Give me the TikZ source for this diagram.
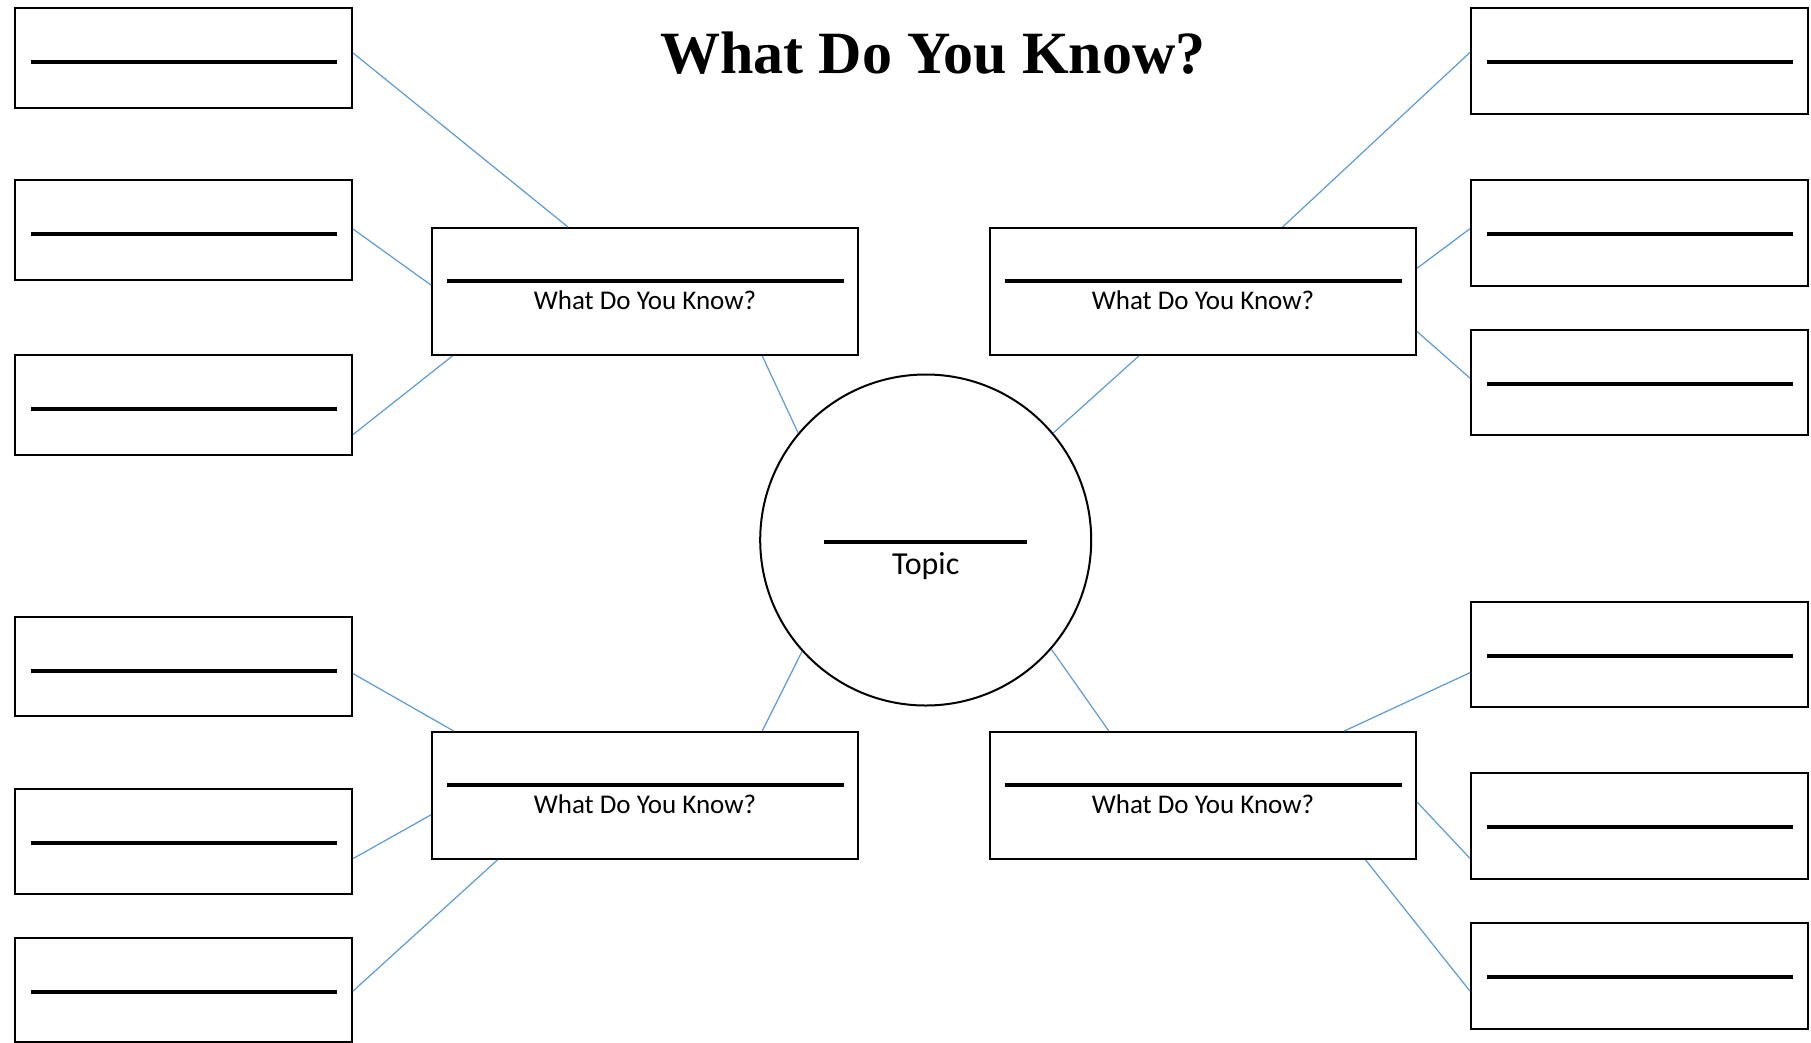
\documentclass[tikz,border=0pt]{standalone}
\usepackage{fontspec}
\setmainfont{Liberation Serif}
\newfontfamily\carlito{Carlito}
\usetikzlibrary{calc}
\definecolor{linkblue}{HTML}{5B9BD5}
\tikzset{
  smallbox/.style={draw, line width=2pt, rectangle, inner sep=0pt, minimum width=337pt, anchor=north west},
  midbox/.style={draw, line width=2pt, rectangle, inner sep=0pt, minimum width=426pt, minimum height=127pt, anchor=north west},
  blank/.style={line width=3.6pt, black},
  link/.style={linkblue, line width=1.2pt},
  boxlabel/.style={font=\carlito\fontsize{27}{31}\selectfont, anchor=base, inner sep=0pt}
}
\begin{document}
\begin{tikzpicture}[x=1pt,y=-1pt]
\useasboundingbox (0,0) rectangle (1811,1042);
% title
\node[font=\bfseries\fontsize{60}{66}\selectfont, anchor=base, inner sep=0pt] (title) at (933,73) {What Do You Know?};
% centre circle
\node[draw, circle, line width=2pt, minimum size=331pt, inner sep=0pt] (C) at (925.7,540) {};
\draw[blank] ([xshift=-101.5pt,yshift=-2pt]C.center) -- ([xshift=101.5pt,yshift=-2pt]C.center);
\node[font=\carlito\fontsize{32}{37}\selectfont, anchor=base, inner sep=0pt] (topic) at ([yshift=-34pt]C.center) {Topic};
% middle boxes
\node[midbox] (M1) at (431,227) {};
\node[midbox] (M2) at (989,227) {};
\node[midbox] (M3) at (431,731) {};
\node[midbox] (M4) at (989,731) {};
\foreach \m in {M1,M2,M3,M4}{
  \draw[blank] ([xshift=16pt,yshift=-54pt]\m.north west) -- ([xshift=-15pt,yshift=-54pt]\m.north east);
  \node[boxlabel] at ([yshift=-82.5pt]\m.north) {What Do You Know?};
}
% small boxes
\node[smallbox, minimum height=100pt] (L1) at (14,7) {};
\node[smallbox, minimum height=100pt] (L2) at (14,179) {};
\node[smallbox, minimum height=100pt] (L3) at (14,354) {};
\node[smallbox, minimum height=99pt] (L4) at (14,616) {};
\node[smallbox, minimum height=105pt] (L5) at (14,788) {};
\node[smallbox, minimum height=104pt] (L6) at (14,937) {};
\node[smallbox, minimum height=106pt] (R1) at (1470,7) {};
\node[smallbox, minimum height=106pt] (R2) at (1470,179) {};
\node[smallbox, minimum height=105pt] (R3) at (1470,329) {};
\node[smallbox, minimum height=105pt] (R4) at (1470,601) {};
\node[smallbox, minimum height=106pt] (R5) at (1470,772) {};
\node[smallbox, minimum height=106pt] (R6) at (1470,922) {};
\foreach \b in {L1,L2,L3,L4,L5,L6,R1,R2,R3,R4,R5,R6}{
  \draw[blank] ([xshift=17pt,yshift=-55pt]\b.north west) -- ([xshift=-16pt,yshift=-55pt]\b.north east);
}
% connectors: circle to middle boxes
\draw[link] (C.140) -- ($(M1.south west)!0.774!(M1.south east)$);
\draw[link] (C.40) -- ($(M2.south west)!0.35!(M2.south east)$);
\draw[link] (C.222) -- ($(M3.north west)!0.774!(M3.north east)$);
\draw[link] (C.-41) -- ($(M4.north west)!0.28!(M4.north east)$);
% M1
\draw[link] ($(L1.north east)!0.45!(L1.south east)$) -- ($(M1.north west)!0.32!(M1.north east)$);
\draw[link] ($(L2.north east)!0.49!(L2.south east)$) -- ($(M1.north west)!0.45!(M1.south west)$);
\draw[link] ($(L3.north east)!0.79!(L3.south east)$) -- ($(M1.south west)!0.05!(M1.south east)$);
% M2
\draw[link] ($(R1.north west)!0.42!(R1.south west)$) -- ($(M2.north west)!0.686!(M2.north east)$);
\draw[link] ($(R2.north west)!0.46!(R2.south west)$) -- ($(M2.north east)!0.32!(M2.south east)$);
\draw[link] ($(R3.north west)!0.46!(R3.south west)$) -- ($(M2.north east)!0.81!(M2.south east)$);
% M3
\draw[link] ($(L4.north east)!0.57!(L4.south east)$) -- ($(M3.north west)!0.053!(M3.north east)$);
\draw[link] ($(L5.north east)!0.66!(L5.south east)$) -- ($(M3.north west)!0.65!(M3.south west)$);
\draw[link] ($(L6.north east)!0.51!(L6.south east)$) -- ($(M3.south west)!0.155!(M3.south east)$);
% M4
\draw[link] ($(R4.north west)!0.67!(R4.south west)$) -- ($(M4.north west)!0.83!(M4.north east)$);
\draw[link] ($(R5.north west)!0.80!(R5.south west)$) -- ($(M4.north east)!0.55!(M4.south east)$);
\draw[link] ($(R6.north west)!0.64!(R6.south west)$) -- ($(M4.south west)!0.88!(M4.south east)$);
\end{tikzpicture}
\end{document}
